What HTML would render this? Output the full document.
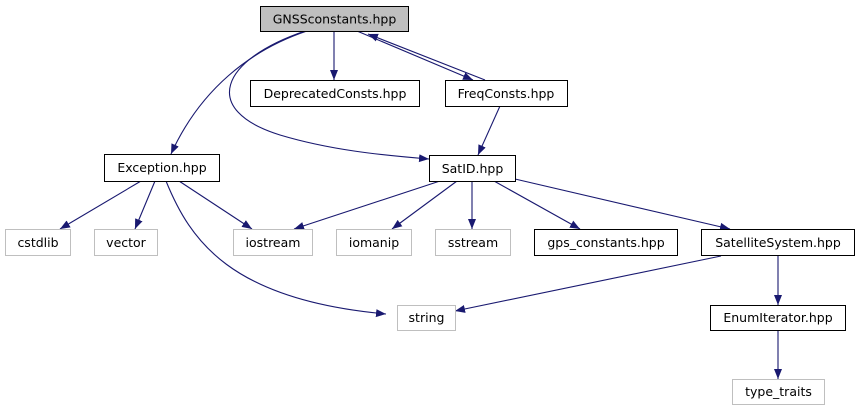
<!DOCTYPE html>
<html><head><meta charset="utf-8"><style>
body{margin:0;background:#fff}
svg{display:block}
text{font-family:"DejaVu Sans","Liberation Sans",sans-serif;font-size:12.5px;fill:#000}
</style></head><body>
<svg width="860" height="411" viewBox="0 0 860 411" xmlns="http://www.w3.org/2000/svg">
<defs><marker id="a" viewBox="0 0 10 10" refX="10" refY="5" markerWidth="10" markerHeight="10" markerUnits="userSpaceOnUse" orient="auto"><path d="M0,1 L10,5 L0,9 z" fill="#191970"/></marker></defs>
<g fill="none" stroke="#191970" stroke-width="1.1" marker-end="url(#a)">
<path d="M334,31 L334,80"/>
<path d="M307,31 C250,50 200,90 171,154"/>
<path d="M305,31 C220,60 200,110 280,135 C330,150 380,155 429,159"/>
<path d="M357,31 L473,80"/>
<path d="M485,80 L368,34"/>
<path d="M500,106 L478,155"/>
<path d="M141,181 L60,229"/>
<path d="M155,181 L135,229"/>
<path d="M179,181 L252,229"/>
<path d="M166,181 C190,240 230,300 386,314"/>
<path d="M440,181 L294,229"/>
<path d="M457,181 L392,229"/>
<path d="M472,181 L472,229"/>
<path d="M494,181 L580,229"/>
<path d="M515,179 L730,229"/>
<path d="M721,256 L455,311"/>
<path d="M778,256 L778,305"/>
<path d="M778,330 L778,379"/>
</g>
<g stroke-width="1">
<rect x="260.5" y="6.5" width="148" height="25" fill="#bfbfbf" stroke="#000"/>
<rect x="250.5" y="80.5" width="169" height="26" fill="#fff" stroke="#000"/>
<rect x="445.5" y="80.5" width="122" height="26" fill="#fff" stroke="#000"/>
<rect x="104.5" y="154.5" width="115" height="27" fill="#fff" stroke="#000"/>
<rect x="429.5" y="155.5" width="86" height="26" fill="#fff" stroke="#000"/>
<rect x="5.5" y="229.5" width="65" height="26" fill="#fff" stroke="#bfbfbf"/>
<rect x="94.5" y="229.5" width="63" height="26" fill="#fff" stroke="#bfbfbf"/>
<rect x="233.5" y="229.5" width="79" height="26" fill="#fff" stroke="#bfbfbf"/>
<rect x="336.5" y="229.5" width="75" height="26" fill="#fff" stroke="#bfbfbf"/>
<rect x="435.5" y="229.5" width="75" height="26" fill="#fff" stroke="#bfbfbf"/>
<rect x="534.5" y="229.5" width="143" height="26" fill="#fff" stroke="#000"/>
<rect x="701.5" y="229.5" width="153" height="26" fill="#fff" stroke="#000"/>
<rect x="397.5" y="305.5" width="58" height="25" fill="#fff" stroke="#bfbfbf"/>
<rect x="710.5" y="305.5" width="135" height="25" fill="#fff" stroke="#000"/>
<rect x="732.5" y="379.5" width="92" height="25" fill="#fff" stroke="#bfbfbf"/>
</g>
<g text-anchor="middle">
<text x="334.5" y="23.5">GNSSconstants.hpp</text>
<text x="335" y="98">DeprecatedConsts.hpp</text>
<text x="506" y="98">FreqConsts.hpp</text>
<text x="162" y="172">Exception.hpp</text>
<text x="472.5" y="173">SatID.hpp</text>
<text x="38" y="247">cstdlib</text>
<text x="126" y="247">vector</text>
<text x="273" y="247">iostream</text>
<text x="374" y="247">iomanip</text>
<text x="473" y="247">sstream</text>
<text x="606" y="247">gps_constants.hpp</text>
<text x="778" y="247">SatelliteSystem.hpp</text>
<text x="426.5" y="322">string</text>
<text x="778" y="322">EnumIterator.hpp</text>
<text x="778.5" y="396">type_traits</text>
</g>
</svg>
</body></html>
